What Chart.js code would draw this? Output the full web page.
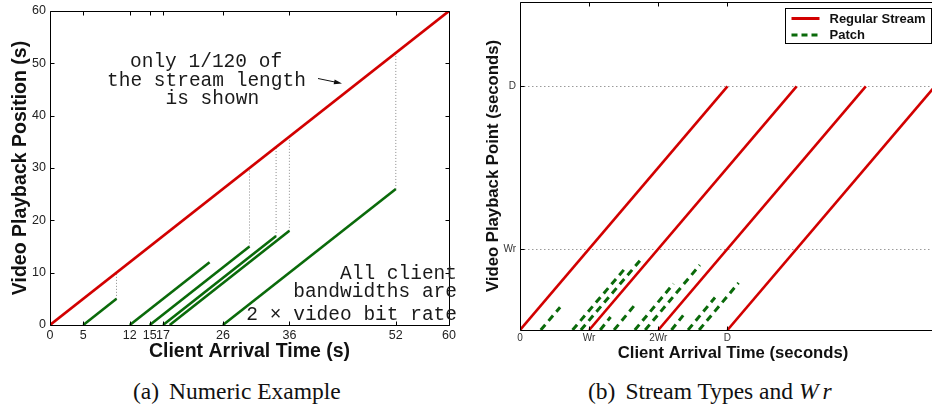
<!DOCTYPE html>
<html>
<head>
<meta charset="utf-8">
<title>Numeric Example / Stream Types and Wr</title>
<script src="https://cdn.jsdelivr.net/npm/chart.js@4.4.1/dist/chart.umd.min.js"></script>
<style>
    html, body { margin: 0; padding: 0; background: #fff; }
    body { position: relative; width: 932px; height: 411px; overflow: hidden; }
    #graficaA { position: absolute; left: 0; top: 0; }
    #graficaB { position: absolute; left: 470px; top: 0; }
    .pie { position: absolute; top: 380px; font-family: "Liberation Serif", serif; font-size: 23.5px; line-height: 23.5px; color: #111; white-space: nowrap; }
    .pie .sub { margin-left: 10px; }
</style>
</head>
<body>
<canvas id="graficaA" width="470" height="366"></canvas>
<canvas id="graficaB" width="476" height="366"></canvas>
<div class="pie" style="left:133px">(a)<span class="sub">Numeric Example</span></div>
<div class="pie" style="left:588px">(b)<span class="sub">Stream Types and <i>W</i><i style="margin-left:4px">r</i></span></div>

<script>

// ---------- (a) Numeric Example ----------
const arrivalTicksA = [0, 5, 12, 15, 17, 26, 36, 52, 60];
const positionTicksA = [0, 10, 20, 30, 40, 50, 60];

const regularStartXA = [0];
const regularEndXA = [60];
const regularEndYA = [60];

const patchStartXA = [5, 12, 15, 17, 18, 26];
const patchEndXA = [10, 24, 30, 34, 36, 52];
const patchEndYA = [5, 12, 15, 17, 18, 26];

// dotted guides from the end of a patch up to the regular stream
const guideXA = [10, 30, 34, 36, 52];
const guideFromA = [5, 15, 17, 18, 26];
const guideToA = [10, 30, 34, 36, 52];

// ---------- (b) Stream Types and Wr ----------
const arrivalTicksB = [0, 1, 2, 3];
const arrivalLabelsB = ['0', 'Wr', '2Wr', 'D'];
const pointTicksB = [1, 3];
const pointLabelsB = ['Wr', 'D'];

const regularStartXB = [0, 1, 2, 3];
const regularEndXB = [3, 4, 5, 6];
const regularEndYB = [3, 3, 3, 3];

const patchStartXB = [0.30, 0.76, 0.88, 1.16, 1.36, 1.66, 1.81, 2.19, 2.43, 2.59];
const patchEndXB = [0.58, 1.52, 1.76, 1.31, 1.69, 2.22, 2.60, 2.36, 2.82, 3.16];
const patchEndYB = [0.28, 0.76, 0.88, 0.16, 0.34, 0.57, 0.80, 0.18, 0.40, 0.58];

const legendLabelsB = ['Regular Stream', 'Patch'];


const rojo = '#d20000';
const verde = '#0a6a0a';
const fontSans = '"Liberation Sans", Arial, sans-serif';
const fontMono = '"Liberation Mono", "Courier New", monospace';


function segmento(x0, y0, x1, y1, color, width, dash, label) {
    return {
        label: label || '',
        data: [{ x: x0, y: y0 }, { x: x1, y: y1 }],
        showLine: true,
        borderColor: color,
        backgroundColor: color,
        borderWidth: width,
        borderDash: dash || [],
        borderCapStyle: 'butt',
        pointRadius: 0,
        pointHoverRadius: 0,
        fill: false
    };
}


// box, inward ticks, reference lines, notes and legend
const marco = {
    id: 'marco',
    beforeDatasetsDraw(chart, args, opts) {
        const { ctx, chartArea: a, scales } = chart;
        if (!opts.refLines) return;
        ctx.save();
        ctx.strokeStyle = '#9a9a9a';
        ctx.lineWidth = 1;
        ctx.setLineDash([1.5, 2.5]);
        ctx.beginPath();
        scales.y.ticks.forEach(t => {
            const py = Math.round(scales.y.getPixelForValue(t.value)) + 0.5;
            ctx.moveTo(a.left, py);
            ctx.lineTo(a.right, py);
        });
        ctx.stroke();
        ctx.restore();
    },
    afterDatasetsDraw(chart, args, opts) {
        const { ctx, chartArea: a, scales } = chart;
        const L = Math.floor(a.left) + 0.5;
        const T = Math.floor(a.top) + 0.5;
        const R = Math.floor(a.right) + 0.5;
        const B = Math.floor(a.bottom) + 0.5;
        const len = opts.tickLength || 4;

        ctx.save();
        ctx.strokeStyle = '#000';
        ctx.lineWidth = 1;
        ctx.setLineDash([]);
        ctx.beginPath();
        ctx.moveTo(L, T); ctx.lineTo(L, B); ctx.lineTo(R, B);
        ctx.moveTo(L, T); ctx.lineTo(R, T);
        if (opts.rightBorder) { ctx.moveTo(R, T); ctx.lineTo(R, B); }

        scales.x.ticks.forEach(t => {
            const px = Math.round(scales.x.getPixelForValue(t.value)) + 0.5;
            ctx.moveTo(px, B); ctx.lineTo(px, B - len);
            ctx.moveTo(px, T); ctx.lineTo(px, T + len);
        });
        scales.y.ticks.forEach(t => {
            const py = Math.round(scales.y.getPixelForValue(t.value)) + 0.5;
            ctx.moveTo(L, py); ctx.lineTo(L + len, py);
            ctx.moveTo(R, py); ctx.lineTo(R - len, py);
        });
        ctx.stroke();

        // text notes
        (opts.notes || []).forEach(n => {
            ctx.font = n.font;
            ctx.fillStyle = '#1a1a1a';
            ctx.textAlign = n.align;
            ctx.textBaseline = 'alphabetic';
            ctx.fillText(n.text, n.x, n.y);
        });

        // arrow
        if (opts.arrow) {
            const [x0, y0, x1, y1] = opts.arrow;
            const ang = Math.atan2(y1 - y0, x1 - x0);
            ctx.strokeStyle = '#111';
            ctx.lineWidth = 1;
            ctx.beginPath();
            ctx.moveTo(x0, y0);
            ctx.lineTo(x1 - 4 * Math.cos(ang), y1 - 4 * Math.sin(ang));
            ctx.stroke();
            ctx.fillStyle = '#111';
            ctx.beginPath();
            ctx.moveTo(x1, y1);
            ctx.lineTo(x1 - 8 * Math.cos(ang) + 2.5 * Math.sin(ang), y1 - 8 * Math.sin(ang) - 2.5 * Math.cos(ang));
            ctx.lineTo(x1 - 8 * Math.cos(ang) - 2.5 * Math.sin(ang), y1 - 8 * Math.sin(ang) + 2.5 * Math.cos(ang));
            ctx.closePath();
            ctx.fill();
        }

        // legend
        if (opts.legend) {
            const lg = opts.legend;
            ctx.fillStyle = '#fff';
            ctx.fillRect(lg.x, lg.y, lg.w, lg.h);
            ctx.strokeStyle = '#000';
            ctx.lineWidth = 1;
            ctx.strokeRect(lg.x, lg.y, lg.w, lg.h);
            lg.items.forEach((it, i) => {
                const yy = lg.y + 10 + i * 16.5;
                ctx.strokeStyle = it.color;
                ctx.lineWidth = 3;
                ctx.setLineDash(it.dash);
                ctx.beginPath();
                ctx.moveTo(lg.x + 6, yy);
                ctx.lineTo(lg.x + 34, yy);
                ctx.stroke();
                ctx.setLineDash([]);
                ctx.fillStyle = '#111';
                ctx.font = 'bold 13px ' + fontSans;
                ctx.textAlign = 'left';
                ctx.textBaseline = 'middle';
                ctx.fillText(it.label, lg.x + 44, yy + 0.5);
            });
        }
        ctx.restore();
    }
};


// ---------- datasets (a) ----------
let datasetsA = [];
for (let i = 0; i < regularStartXA.length; i++) {
    datasetsA.push(segmento(regularStartXA[i], 0, regularEndXA[i], regularEndYA[i], rojo, 2.6));
}
for (let i = 0; i < patchStartXA.length; i++) {
    datasetsA.push(segmento(patchStartXA[i], 0, patchEndXA[i], patchEndYA[i], verde, 2.6));
}
for (let i = 0; i < guideXA.length; i++) {
    datasetsA.push(segmento(guideXA[i], guideFromA[i], guideXA[i], guideToA[i], '#8a8a8a', 1, [1, 2]));
}

const ctxA = document.getElementById('graficaA');
const chartA = new Chart(ctxA, {
    type: 'scatter',
    data: { datasets: datasetsA },
    options: {
        responsive: false,
        animation: false,
        events: [],
        layout: { padding: { left: 0, top: 11, right: 21, bottom: 0 } },
        plugins: {
            legend: { display: false },
            tooltip: { enabled: false },
            marco: {
                tickLength: 4,
                rightBorder: true,
                notes: [
                    { text: 'only 1/120 of', x: 130, y: 66.5, align: 'left', font: '19.5px ' + fontMono },
                    { text: 'the stream length', x: 107, y: 85.5, align: 'left', font: '19.5px ' + fontMono },
                    { text: 'is shown', x: 165.5, y: 104, align: 'left', font: '19.5px ' + fontMono },
                    { text: 'All client', x: 457, y: 278.5, align: 'right', font: '19.5px ' + fontMono },
                    { text: 'bandwidths are', x: 457, y: 297, align: 'right', font: '19.5px ' + fontMono },
                    { text: '2 \u00d7 video bit rate', x: 457, y: 320, align: 'right', font: '19.5px ' + fontMono }
                ],
                arrow: [318, 78.5, 342, 83.5]
            }
        },
        scales: {
            x: {
                type: 'linear',
                min: 0,
                max: 60,
                afterBuildTicks: s => { s.ticks = arrivalTicksA.map(v => ({ value: v })); },
                afterFit: s => { s.height = 41; s.paddingLeft = 0; s.paddingRight = 0; },
                grid: { display: false, drawTicks: false },
                border: { display: false },
                ticks: { autoSkip: false, maxRotation: 0, minRotation: 0, padding: 3, color: '#222', font: { family: fontSans, size: 12.5 } },
                title: { display: true, text: 'Client Arrival Time (s)', color: '#111', font: { family: fontSans, size: 19.5, weight: 'bold' }, padding: { top: 0, bottom: 3 } }
            },
            y: {
                type: 'linear',
                min: 0,
                max: 60,
                afterBuildTicks: s => { s.ticks = positionTicksA.map(v => ({ value: v })); },
                afterFit: s => { s.width = 50; s.paddingTop = 0; s.paddingBottom = 0; },
                grid: { display: false, drawTicks: false },
                border: { display: false },
                ticks: { padding: 4, color: '#222', font: { family: fontSans, size: 12.5 } },
                title: { display: true, text: 'Video Playback Position (s)', color: '#111', font: { family: fontSans, size: 19.5, weight: 'bold' }, padding: { top: 9, bottom: 0 } }
            }
        }
    },
    plugins: [marco]
});


// ---------- datasets (b) ----------
let datasetsB = [];
for (let i = 0; i < regularStartXB.length; i++) {
    datasetsB.push(segmento(regularStartXB[i], 0, regularEndXB[i], regularEndYB[i], rojo, 2.6, [], legendLabelsB[0]));
}
for (let i = 0; i < patchStartXB.length; i++) {
    datasetsB.push(segmento(patchStartXB[i], 0, patchEndXB[i], patchEndYB[i], verde, 3, [7, 5], legendLabelsB[1]));
}

const ctxB = document.getElementById('graficaB');
const chartB = new Chart(ctxB, {
    type: 'scatter',
    data: { datasets: datasetsB },
    options: {
        responsive: false,
        animation: false,
        events: [],
        layout: { padding: { left: 0, top: 2, right: 0, bottom: 0 } },
        plugins: {
            legend: { display: false },
            tooltip: { enabled: false },
            marco: {
                tickLength: 4,
                rightBorder: false,
                refLines: true,
                legend: {
                    x: 315.5, y: 8.5, w: 146, h: 35,
                    items: [
                        { label: legendLabelsB[0], color: rojo, dash: [] },
                        { label: legendLabelsB[1], color: verde, dash: [6, 4] }
                    ]
                }
            }
        },
        scales: {
            x: {
                type: 'linear',
                min: 0,
                max: 6.16,
                afterBuildTicks: s => { s.ticks = arrivalTicksB.map(v => ({ value: v })); },
                afterFit: s => { s.height = 36; s.paddingLeft = 0; s.paddingRight = 0; },
                grid: { display: false, drawTicks: false },
                border: { display: false },
                ticks: {
                    autoSkip: false, maxRotation: 0, minRotation: 0, padding: 2, color: '#333',
                    font: { family: fontSans, size: 10 },
                    callback: (v, i) => arrivalLabelsB[i]
                },
                title: { display: true, text: 'Client Arrival Time (seconds)', color: '#111', font: { family: fontSans, size: 16.7, weight: 'bold' }, padding: { top: 0, bottom: 2.7 } }
            },
            y: {
                type: 'linear',
                min: 0,
                max: 4.04,
                afterBuildTicks: s => { s.ticks = pointTicksB.map(v => ({ value: v })); },
                afterFit: s => { s.width = 50; s.paddingTop = 0; s.paddingBottom = 0; },
                grid: { display: false, drawTicks: false },
                border: { display: false },
                ticks: {
                    padding: 4, color: '#333',
                    font: { family: fontSans, size: 10 },
                    callback: (v, i) => pointLabelsB[i]
                },
                title: { display: true, text: 'Video Playback Point (seconds)', color: '#111', font: { family: fontSans, size: 16.7, weight: 'bold' }, padding: { top: 13, bottom: 0 } }
            }
        }
    },
    plugins: [marco]
});

</script>
</body>
</html>
